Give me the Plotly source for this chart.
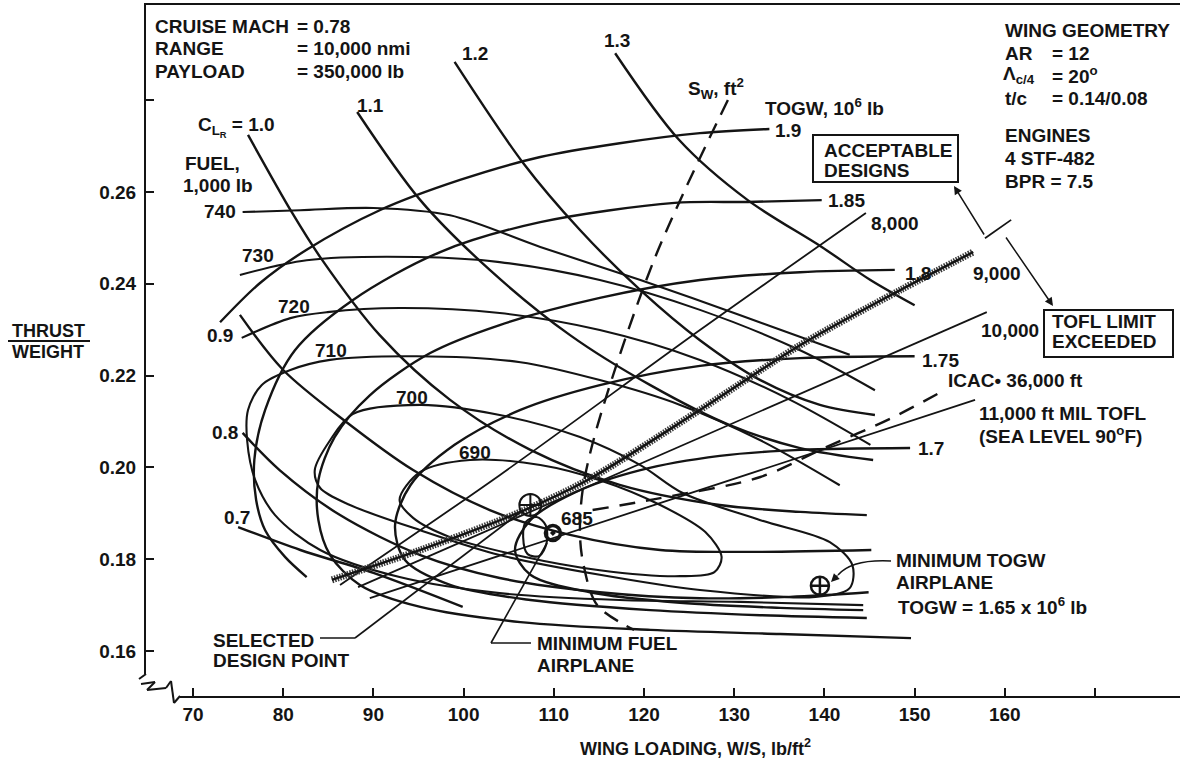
import plotly.graph_objects as go

FONT = "Liberation Sans"
INK = "#141414"

# ---- axis ticks -------------------------------------------------------
X_TICKS = [70, 80, 90, 100, 110, 120, 130, 140, 150, 160, 170]
X_TICK_TEXT = ["70", "80", "90", "100", "110", "120", "130", "140", "150", "160", " "]
Y_TICKS = [0.16, 0.18, 0.20, 0.22, 0.24, 0.26, 0.28]
Y_TICK_TEXT = ["0.16", "0.18", "0.20", "0.22", "0.24", "0.26", " "]

# ---- TOGW contours, 10^6 lb (W/S, T/W) --------------------------------
TOGW_190_WS = [73.0, 77.4, 82.6, 90.7, 99.6, 108.5, 117.3, 126.2, 133.9]
TOGW_190_TW = [.2316, .2401, .2474, .2560, .2626, .2676, .2706, .2728, .2737]
TOGW_185_WS = [139.7, 131.5, 123.4, 108.5, 97.4, 87.7, 81.3, 78.0, 76.8, 77.0, 78.0, 80.2, 82.6]
TOGW_185_TW = [.2582, .2578, .2576, .2534, .2469, .2364, .2255, .2125, .2016, .1929, .1863, .1805, .1761]
TOGW_180_WS = [147.8, 137.3, 126.2, 115.1, 104.0, 96.3, 89.6, 85.7, 83.9, 83.9, 85.2, 88.5, 95.2, 106.3, 120.7, 135.1, 149.6]
TOGW_180_TW = [.2430, .2425, .2408, .2369, .2310, .2249, .2157, .2066, .1972, .1885, .1809, .1744, .1696, .1663, .1646, .1637, .1628]
TOGW_175_WS = [150.0, 137.3, 126.2, 115.1, 106.3, 99.0, 94.1, 92.4, 93.5, 98.5, 107.4, 120.7, 132.9, 144.7]
TOGW_175_TW = [.2242, .2238, .2221, .2179, .2125, .2049, .1961, .1874, .1798, .1744, .1711, .1689, .1678, .1672]
TOGW_170_WS = [149.5, 137.3, 128.4, 119.6, 112.4, 107.4, 105.7, 107.4, 114.0, 124.0, 135.1, 144.3]
TOGW_170_TW = [.2042, .2038, .2025, .1994, .1946, .1885, .1820, .1766, .1728, .1705, .1694, .1689]

# ---- cruise lift coefficient lines ------------------------------------
CLR_13_WS = [116.8, 123.9, 131.5, 139.7, 145.1, 150.0]
CLR_13_TW = [.2902, .2713, .2582, .2480, .2408, .2353]
CLR_12_WS = [99.0, 106.6, 112.9, 119.6, 126.2, 132.9, 139.5, 145.6]
CLR_12_TW = [.2883, .2663, .2517, .2386, .2277, .2190, .2136, .2114]
CLR_11_WS = [88.2, 95.2, 102.9, 111.8, 120.7, 129.5, 137.3, 145.4]
CLR_11_TW = [.2774, .2582, .2430, .2288, .2179, .2092, .2042, .2016]
CLR_10_WS = [76.1, 81.0, 84.1, 90.7, 98.5, 107.4, 117.3, 128.4, 137.3, 144.7]
CLR_10_TW = [.2724, .2554, .2458, .2288, .2147, .2038, .1962, .1918, .1903, .1896]
CLR_09_WS = [75.2, 80.0, 87.1, 94.4, 102.9, 111.8, 121.8, 132.9, 145.2]
CLR_09_TW = [.2332, .2212, .2097, .1994, .1907, .1853, .1820, .1816, .1820]
CLR_08_WS = [75.5, 79.6, 86.3, 95.2, 104.0, 115.1, 126.2, 136.2, 144.9]
CLR_08_TW = [.2075, .1994, .1896, .1809, .1759, .1728, .1715, .1718, .1728]
CLR_07_WS = [75.0, 81.9, 90.0, 99.9]
CLR_07_TW = [.1870, .1820, .1770, .1696]

# ---- mission fuel contours, 1,000 lb ----------------------------------
FUEL_740_WS = [75.5, 81.9, 90.0, 98.5, 108.5, 119.6, 130.6, 142.8]
FUEL_740_TW = [.2556, .2560, .2565, .2549, .2480, .2408, .2332, .2245]
FUEL_730_WS = [75.2, 82.6, 94.8, 104.0, 115.1, 126.2, 137.3, 145.6]
FUEL_730_TW = [.2419, .2451, .2458, .2447, .2408, .2343, .2255, .2168]
FUEL_720_WS = [75.4, 80.8, 84.9, 92.9, 104.0, 115.1, 126.2, 136.2, 145.1]
FUEL_720_TW = [.2282, .2325, .2338, .2347, .2336, .2299, .2234, .2147, .2049]
FUEL_710_WS = [141.7, 132.9, 124.0, 115.1, 106.3, 94.8, 85.2, 80.8, 77.6, 76.1, 76.0, 76.9, 79.1, 84.1, 92.9, 104.0, 117.3, 130.6, 144.3]
FUEL_710_TW = [.1961, .2059, .2136, .2190, .2229, .2242, .2234, .2212, .2179, .2125, .2059, .1972, .1896, .1820, .1761, .1726, .1711, .1707, .1700]
FUEL_700_WS = [83.5, 85.2, 87.7, 95.2, 104.0, 112.9, 119.6, 124.3, 132.9, 140.6, 143.1, 142.8, 139.0, 126.2, 115.1, 104.0, 95.2, 87.4, 84.1, 83.5]
FUEL_700_TW = [.1994, .2059, .2116, .2136, .2114, .2066, .2005, .1944, .1885, .1837, .1787, .1737, .1718, .1733, .1766, .1809, .1863, .1918, .1955, .1994]
FUEL_690_WS = [92.9, 95.2, 100.7, 108.5, 115.1, 121.8, 126.8, 128.6, 127.8, 124.0, 115.1, 106.3, 98.5, 94.4, 92.9]
FUEL_690_TW = [.1929, .1990, .2016, .2005, .1972, .1918, .1859, .1805, .1772, .1763, .1776, .1807, .1848, .1890, .1929]
FUEL_685_WS = [106.6, 106.9, 108.1, 109.1, 109.2, 108.4, 107.1, 106.6]
FUEL_685_TW = [.1848, .1881, .1892, .1874, .1835, .1807, .1811, .1848]

# ---- takeoff field length lines, ft -----------------------------------
TOFL_8000_WS = [86.3, 104.0, 126.2, 144.6]
TOFL_8000_TW = [.1744, .1983, .2299, .2554]
TOFL_9000_WS = [85.4, 95.2, 106.3, 113.7, 126.2, 137.3, 148.4, 156.5]
TOFL_9000_TW = [.1755, .1820, .1903, .1972, .2125, .2266, .2386, .2469]
TOFL_9000_TAIL_WS = [157.8, 160.7]
TOFL_9000_TAIL_TW = [.2499, .2539]
TOFL_10000_WS = [88.3, 158.0]
TOFL_10000_TW = [.1739, .2338]
TOFL_11000_WS = [89.6, 156.7]
TOFL_11000_TW = [.1715, .2147]

# ---- initial cruise altitude and constant wing area -------------------
ICAC_WS = [114.3, 121.8, 132.9, 140.2, 147.4, 153.3]
ICAC_TW = [.1907, .1933, .1979, .2044, .2107, .2168]
SW_WS = [129.3, 121.1, 114.8, 113.2, 112.9, 113.3, 114.8, 118.9]
SW_TW = [.2800, .2451, .2088, .1951, .1853, .1787, .1700, .1646]

# ---- design points ----------------------------------------------------
SELECTED_WS, SELECTED_TW = [107.4], [.1918]
MIN_FUEL_WS, MIN_FUEL_TW = [109.9], [.1857]
MIN_TOGW_WS, MIN_TOGW_TW = [139.5], [.1742]

X_RANGE = [64.79, 179.42]
Y_RANGE = [0.1502, 0.3007]

# plot-area frame in page pixels, used to place text and leaders
L, TOP, R, BOT = 146, 5, 1180, 696


def px(x):
    return (x - L) / (R - L)


def py(y):
    return (BOT - y) / (BOT - TOP)


fig = go.Figure()


def curve(ws, tw, width=2.3, dash="solid", color=INK, smooth=True):
    fig.add_trace(go.Scatter(
        x=ws, y=tw, mode="lines",
        line=dict(color=color, width=width, dash=dash,
                  shape="spline" if smooth else "linear", smoothing=0.9),
        hoverinfo="skip", showlegend=False))


for ws, tw in [(TOGW_190_WS, TOGW_190_TW), (TOGW_185_WS, TOGW_185_TW),
               (TOGW_180_WS, TOGW_180_TW), (TOGW_175_WS, TOGW_175_TW),
               (TOGW_170_WS, TOGW_170_TW)]:
    curve(ws, tw, 2.4)

for ws, tw in [(CLR_13_WS, CLR_13_TW), (CLR_12_WS, CLR_12_TW), (CLR_11_WS, CLR_11_TW),
               (CLR_10_WS, CLR_10_TW), (CLR_09_WS, CLR_09_TW), (CLR_08_WS, CLR_08_TW),
               (CLR_07_WS, CLR_07_TW)]:
    curve(ws, tw, 2.4)

for ws, tw in [(FUEL_740_WS, FUEL_740_TW), (FUEL_730_WS, FUEL_730_TW),
               (FUEL_720_WS, FUEL_720_TW), (FUEL_710_WS, FUEL_710_TW),
               (FUEL_700_WS, FUEL_700_TW), (FUEL_690_WS, FUEL_690_TW),
               (FUEL_685_WS, FUEL_685_TW)]:
    curve(ws, tw, 2.1)

curve(TOFL_8000_WS, TOFL_8000_TW, 1.8)
curve(TOFL_10000_WS, TOFL_10000_TW, 1.8, smooth=False)
curve(TOFL_11000_WS, TOFL_11000_TW, 1.8, smooth=False)
# 9,000 ft limit: hatched band under a solid edge
curve(TOFL_9000_WS, TOFL_9000_TW, 7, dash="1.5px,1.2px", color="#3a3a3a")
curve(TOFL_9000_WS, TOFL_9000_TW, 2.4)
curve(TOFL_9000_TAIL_WS, TOFL_9000_TAIL_TW, 1.8, smooth=False)

curve(ICAC_WS, ICAC_TW, 2.4, dash="16px,11px")
curve(SW_WS, SW_TW, 2.4, dash="16px,10px")

fig.add_trace(go.Scatter(x=SELECTED_WS, y=SELECTED_TW, mode="markers",
                         marker=dict(symbol="circle-cross-open", size=22, color=INK,
                                     line=dict(width=2, color=INK)),
                         hoverinfo="skip", showlegend=False))
fig.add_trace(go.Scatter(x=MIN_FUEL_WS, y=MIN_FUEL_TW, mode="markers",
                         marker=dict(symbol="circle-open-dot", size=15, color=INK,
                                     line=dict(width=3.5, color=INK)),
                         hoverinfo="skip", showlegend=False))
fig.add_trace(go.Scatter(x=MIN_TOGW_WS, y=MIN_TOGW_TW, mode="markers",
                         marker=dict(symbol="circle-cross-open", size=18, color=INK,
                                     line=dict(width=2.5, color=INK)),
                         hoverinfo="skip", showlegend=False))


def label(text, x, y, anchor="left", size=19):
    fig.add_annotation(text=f"<b>{text}</b>", x=px(x), y=py(y), xref="paper", yref="paper",
                       xanchor=anchor, yanchor="middle", showarrow=False,
                       font=dict(family=FONT, size=size, color=INK))


def seg(x0, y0, x1, y1, width=2.0, color=INK):
    fig.add_shape(type="line", xref="paper", yref="paper",
                  x0=px(x0), y0=py(y0), x1=px(x1), y1=py(y1),
                  line=dict(color=color, width=width), layer="above")


def path(points, width=1.8):
    for (a, b), (c, d) in zip(points[:-1], points[1:]):
        seg(a, b, c, d, width)


def box(x0, y0, x1, y1):
    fig.add_shape(type="rect", xref="paper", yref="paper",
                  x0=px(x0), x1=px(x1), y0=py(y1), y1=py(y0),
                  line=dict(color=INK, width=2))


def arrow(x, y, tx, ty, width=1.5):
    fig.add_annotation(x=px(x), y=py(y), xref="paper", yref="paper", text="",
                       showarrow=True, ax=tx - x, ay=ty - y, arrowhead=2,
                       arrowsize=1.1, arrowwidth=width, arrowcolor=INK)


# axis breaks at the lower-left corner: blank the axis lines there, then zigzag
seg(146, 674, 146, 698, 4, "white")
seg(144, 696, 180, 696, 4, "white")
path([(146, 674), (139, 679)], 2)
path([(141, 684), (155, 682), (147, 690), (166, 688), (171, 681), (174, 703), (180, 696)], 2)

# mission block
label("CRUISE MACH", 153, 27)
label("= 0.78", 295, 27)
label("RANGE", 153, 49)
label("= 10,000 nmi", 295, 49)
label("PAYLOAD", 153, 72)
label("= 350,000 lb", 295, 72)

# wing and engine block
label("WING GEOMETRY", 1003, 30)
label("AR", 1003, 53)
label("= 12", 1050, 53)
label("\u039b<sub>c/4</sub>", 1001, 75)
label("= 20<sup>o</sup>", 1050, 75)
label("t/c", 1003, 98)
label("= 0.14/0.08", 1050, 98)
label("ENGINES", 1003, 135)
label("4 STF-482", 1003, 158)
label("BPR = 7.5", 1003, 182)

# curve labels
label("C<sub>L<sub>R</sub></sub> = 1.0", 196, 127)
label("1.1", 370, 105, "center")
label("1.2", 475, 53, "center")
label("1.3", 617, 40, "center")
label("0.9", 220, 335, "center")
label("0.8", 225, 432, "center")
label("0.7", 237, 517, "center")
label("FUEL,", 183, 163)
label("1,000 lb", 181, 185)
label("740", 238, 212, "right")
label("730", 258, 255, "center")
label("720", 294, 307, "center")
label("710", 331, 350, "center")
label("700", 412, 397, "center")
label("690", 475, 452, "center")
label("685", 577, 518, "center")
label("S<sub>W</sub>, ft<sup>2</sup>", 716, 88, "center")
label("TOGW, 10<sup>6</sup> lb", 763, 107)
label("1.9", 773, 130)
label("1.85", 826, 200)
label("1.8", 903, 273)
label("1.75", 920, 360)
label("1.7", 916, 448)
label("8,000", 869, 223)
label("9,000", 971, 273)
label("10,000", 979, 330)
label("ICAC\u2022 36,000 ft", 946, 380)
label("11,000 ft MIL TOFL", 977, 413)
label("(SEA LEVEL 90<sup>o</sup>F)", 977, 435)

label("ACCEPTABLE", 822, 150)
label("DESIGNS", 822, 170)
box(813, 135, 958, 182)
label("TOFL LIMIT", 1050, 322)
label("EXCEEDED", 1050, 341)
box(1044, 310, 1173, 357)
arrow(954, 186, 985, 236)
arrow(1053, 306, 1005, 236)

label("MINIMUM TOGW", 894, 560)
label("AIRPLANE", 894, 582)
label("TOGW = 1.65 x 10<sup>6</sup> lb", 896, 606)
# curved leader to the minimum-TOGW symbol
fig.add_shape(type="path", xref="paper", yref="paper", layer="above",
              path=f"M {px(891):.5f},{py(561):.5f} Q {px(852):.5f},{py(559):.5f} {px(838):.5f},{py(575):.5f}",
              line=dict(color=INK, width=1.5))
arrow(831, 582, 839, 574)

label("SELECTED", 211, 640)
label("DESIGN POINT", 211, 660)
path([(320, 638), (355, 638), (522, 511)], 1.6)

label("MINIMUM FUEL", 535, 643)
label("AIRPLANE", 535, 665)
path([(531, 643), (491, 643), (547, 543)], 1.6)

# axis titles
label("WING LOADING, W/S, lb/ft<sup>2</sup>", 695, 747, "center", 18)
label("THRUST", 48, 331, "center", 18)
label("WEIGHT", 48, 352, "center", 18)
seg(8, 341, 90, 341, 2)

axis_common = dict(ticks="inside", ticklen=8, tickwidth=2, tickcolor=INK,
                   showgrid=False, zeroline=False, showline=True,
                   linewidth=2, linecolor=INK, automargin=False,
                   tickfont=dict(family=FONT, size=19, color=INK))

fig.update_layout(
    width=1180, height=761,
    margin=dict(l=L, r=0, t=TOP, b=761 - BOT, autoexpand=False),
    paper_bgcolor="white", plot_bgcolor="white",
    showlegend=False,
    xaxis=dict(range=X_RANGE, tickvals=X_TICKS, mirror=True,
               ticktext=[f"<b>{t}</b>" for t in X_TICK_TEXT], **axis_common),
    yaxis=dict(range=Y_RANGE, tickvals=Y_TICKS, ticklabelstandoff=4,
               ticktext=[f"<b>{t}</b>" for t in Y_TICK_TEXT], **axis_common),
)

fig.write_html("out.html")
